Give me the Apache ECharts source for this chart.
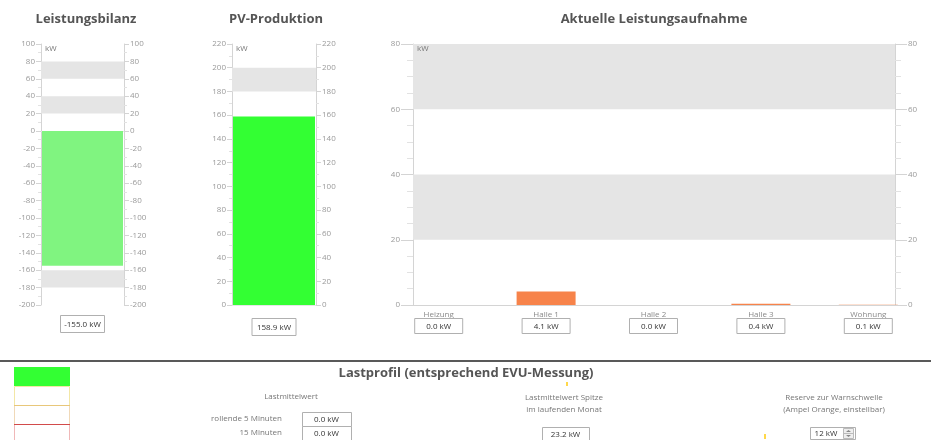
<!DOCTYPE html>
<html><head><meta charset="utf-8">
<script src="https://cdn.jsdelivr.net/npm/echarts@6/dist/echarts.min.js"></script>
<style>html,body{margin:0;padding:0;background:#fff}#c{width:932px;height:440px}</style>
</head><body><div id="c"></div>
<script>
const bilanzCategories = ['Leistungsbilanz'];
const bilanzValues = [-155.0];
const bilanzBands = [[60, 80], [20, 40], [-180, -160]];
const pvCategories = ['PV-Produktion'];
const pvValues = [158.9];
const pvBands = [[180, 200]];
const consumerNames = ['Heizung', 'Halle 1', 'Halle 2', 'Halle 3', 'Wohnung'];
const consumerValues = [0.0, 4.1, 0.0, 0.4, 0.1];
const consumerBands = [[60, 80], [20, 40]];
const lastmittelRows = ['rollende 5 Minuten', '15 Minuten'];
const lastmittelValues = [0.0, 0.0];
const peakValue = 23.2;
const reserveValue = 12;

const FONT = '"Open Sans", sans-serif';
const AX = '#d4d4d4';
const kw = v => v.toFixed(1) + ' kW';

function yAx(gridIndex, pos, min, max, interval, minorSplit, tickLen, minorLen) {
  return {
    type: 'value', gridIndex: gridIndex, position: pos, min: min, max: max, interval: interval,
    axisLine: { show: true, lineStyle: { color: AX } },
    axisTick: { show: true, length: tickLen, lineStyle: { color: AX } },
    minorTick: { show: true, splitNumber: minorSplit, length: minorLen, lineStyle: { color: '#e2e2e2' } },
    splitLine: { show: false },
    axisLabel: { color: '#9a9a9a', fontSize: 8, fontFamily: FONT, margin: tickLen + 1 }
  };
}
const bands = arr => ({
  silent: true,
  itemStyle: { color: '#e5e5e5' },
  data: arr.map(b => [{ yAxis: b[0] }, { yAxis: b[1] }])
});
const boxRich = {
  b: { color: '#333', fontSize: 8, fontFamily: FONT, borderColor: '#b0b0b0', borderWidth: 1,
       padding: [4, 5, 3, 5], lineHeight: 10, width: 38, align: 'center' },
  n: { color: '#8a8a8a', fontSize: 8, fontFamily: FONT, lineHeight: 13, align: 'center' }
};
const bigBoxRich = {
  b: { color: '#333', fontSize: 8, fontFamily: FONT, borderColor: '#b0b0b0', borderWidth: 1,
       padding: [5, 5, 4, 5], lineHeight: 10, width: 34, align: 'center' }
};

const titleStyle = { color: '#555', fontSize: 13, fontWeight: 'bold', fontFamily: FONT };

const graphics = [];
[[45, 49], [236, 49], [417, 49]].forEach(p => graphics.push({
  type: 'text', x: p[0], y: p[1], style: { text: 'kW', fill: '#777', font: '8px ' + FONT, textVerticalAlign: 'middle' }, z: 10
}));
graphics.push({ type: 'line', shape: { x1: 0, y1: 361, x2: 931, y2: 361 }, style: { stroke: '#222', lineWidth: 1.5 } });
graphics.push({ type: 'rect', shape: { x: 14, y: 367, width: 56, height: 19 }, style: { fill: '#33ff33' } });
graphics.push({ type: 'rect', shape: { x: 14.5, y: 386.5, width: 55, height: 19 }, style: { fill: '#fff', stroke: '#f3e7a6', lineWidth: 1 } });
graphics.push({ type: 'rect', shape: { x: 14.5, y: 405.5, width: 55, height: 19 }, style: { fill: '#fff', stroke: '#f0d9b8', lineWidth: 1 } });
graphics.push({ type: 'line', shape: { x1: 14, y1: 405.5, x2: 70, y2: 405.5 }, style: { stroke: '#e8c77a', lineWidth: 1 } });
graphics.push({ type: 'rect', shape: { x: 14.5, y: 424.5, width: 55, height: 20 }, style: { fill: '#fff', stroke: '#f0b8b8', lineWidth: 1 } });
graphics.push({ type: 'line', shape: { x1: 14, y1: 424.5, x2: 70, y2: 424.5 }, style: { stroke: '#d24b4b', lineWidth: 1 } });
graphics.push({ type: 'text', x: 466, y: 373, style: { text: 'Lastprofil (entsprechend EVU-Messung)', fill: '#555', font: 'bold 13px ' + FONT, textAlign: 'center', textVerticalAlign: 'middle' } });
const small = (x, y, t, align) => ({ type: 'text', x: x, y: y, style: { text: t, fill: '#777', font: '8px ' + FONT, textAlign: align || 'center', textVerticalAlign: 'middle' } });
const vbox = (x, y, w, h, t) => [
  { type: 'rect', shape: { x: x + 0.5, y: y + 0.5, width: w, height: h }, style: { fill: '#fff', stroke: '#b0b0b0', lineWidth: 1 } },
  { type: 'text', x: x + w / 2, y: y + h / 2 + 1, style: { text: t, fill: '#333', font: '8px ' + FONT, textAlign: 'center', textVerticalAlign: 'middle' } }
];
graphics.push(small(291, 397, 'Lastmittelwert'));
lastmittelRows.forEach((r, i) => {
  graphics.push(small(282, 419 + i * 14, r, 'right'));
  vbox(302, 412 + i * 14, 49, 14, kw(lastmittelValues[i])).forEach(g => graphics.push(g));
});
graphics.push(small(564, 398, 'Lastmittelwert Spitze'));
graphics.push(small(564, 410, 'im laufenden Monat'));
vbox(542, 427, 47, 13, kw(peakValue)).forEach(g => graphics.push(g));
graphics.push({ type: 'rect', shape: { x: 566, y: 382, width: 2, height: 4 }, style: { fill: '#ffd84a' } });
graphics.push({ type: 'rect', shape: { x: 764, y: 434, width: 2, height: 5 }, style: { fill: '#ffd84a' } });
graphics.push(small(834, 398, 'Reserve zur Warnschwelle'));
graphics.push(small(834, 410, '(Ampel Orange, einstellbar)'));
graphics.push({ type: 'rect', shape: { x: 810.5, y: 427.5, width: 45, height: 12 }, style: { fill: '#fff', stroke: '#b0b0b0', lineWidth: 1 } });
graphics.push({ type: 'text', x: 826, y: 434, style: { text: reserveValue + ' kW', fill: '#333', font: '8px ' + FONT, textAlign: 'center', textVerticalAlign: 'middle' } });
graphics.push({ type: 'rect', shape: { x: 843.5, y: 428.5, width: 10, height: 10 }, style: { fill: '#eee', stroke: '#bbb', lineWidth: 1 } });
graphics.push({ type: 'line', shape: { x1: 844, y1: 433.5, x2: 853, y2: 433.5 }, style: { stroke: '#bbb', lineWidth: 1 } });
graphics.push({ type: 'polygon', shape: { points: [[846, 432], [851, 432], [848.5, 430]] }, style: { fill: '#888' } });
graphics.push({ type: 'polygon', shape: { points: [[846, 435], [851, 435], [848.5, 437]] }, style: { fill: '#888' } });

const option = {
  animation: false,
  backgroundColor: '#fff',
  title: [
    { text: 'Leistungsbilanz', left: 81, top: 8, textAlign: 'center', textStyle: titleStyle },
    { text: 'PV-Produktion', left: 271, top: 8, textAlign: 'center', textStyle: titleStyle },
    { text: 'Aktuelle Leistungsaufnahme', left: 649, top: 8, textAlign: 'center', textStyle: titleStyle }
  ],
  grid: [
    { left: 41, width: 83, top: 44, height: 261 },
    { left: 232, width: 84, top: 44, height: 261 },
    { left: 413, width: 482, top: 44, height: 261 },
    { left: 385, width: 537, top: 44, height: 261 }
  ],
  xAxis: [
    { type: 'category', gridIndex: 0, data: bilanzCategories,
      axisLine: { lineStyle: { color: '#e6e6e6' } }, axisTick: { show: false },
      axisLabel: { margin: 14, formatter: (v, i) => '{b|' + kw(bilanzValues[i]) + '}', rich: bigBoxRich } },
    { type: 'category', gridIndex: 1, data: pvCategories,
      axisLine: { lineStyle: { color: '#e6e6e6' } }, axisTick: { show: false },
      axisLabel: { margin: 17, formatter: (v, i) => '{b|' + kw(pvValues[i]) + '}', rich: bigBoxRich } },
    { type: 'category', gridIndex: 2, data: consumerNames,
      axisLine: { lineStyle: { color: AX } }, axisTick: { show: false }, axisLabel: { show: false } },
    { type: 'category', gridIndex: 3, data: consumerNames,
      axisLine: { show: false }, axisTick: { show: false },
      axisLabel: { margin: 3, interval: 0, formatter: (v, i) => '{n|' + v + '}\n{b|' + kw(consumerValues[i]) + '}', rich: boxRich } }
  ],
  yAxis: [
    yAx(0, 'left', -200, 100, 20, 2, 5, 3),
    yAx(0, 'right', -200, 100, 20, 2, 5, 3),
    yAx(1, 'left', 0, 220, 20, 2, 5, 3),
    yAx(1, 'right', 0, 220, 20, 2, 5, 3),
    yAx(2, 'left', 0, 80, 20, 4, 12, 6),
    yAx(2, 'right', 0, 80, 20, 4, 12, 6),
    { type: 'value', gridIndex: 3, min: 0, max: 80, interval: 20, show: false }
  ],
  series: [
    { type: 'bar', xAxisIndex: 0, yAxisIndex: 0, data: bilanzValues, barWidth: 81,
      itemStyle: { color: '#80f480' }, markArea: bands(bilanzBands), z: 3 },
    { type: 'bar', xAxisIndex: 1, yAxisIndex: 2, data: pvValues, barWidth: 82,
      itemStyle: { color: '#33ff33' }, markArea: bands(pvBands), z: 3 },
    { type: 'line', xAxisIndex: 2, yAxisIndex: 4, data: [], markArea: bands(consumerBands) },
    { type: 'bar', xAxisIndex: 3, yAxisIndex: 6, data: consumerValues, barWidth: 59,
      itemStyle: { color: '#f7834a' }, z: 3 }
  ],
  graphic: graphics
};
const chart = echarts.init(document.getElementById('c'), null, { renderer: 'canvas' });
chart.setOption(option);
</script></body></html>
